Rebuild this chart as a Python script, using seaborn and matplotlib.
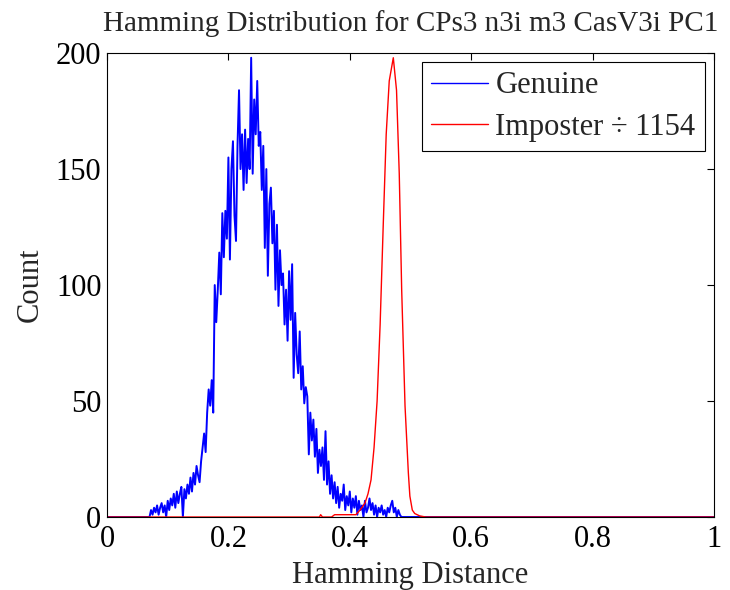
import numpy as np
import pandas as pd
import matplotlib
matplotlib.use("Agg")
import matplotlib.pyplot as plt
import seaborn as sns

# ---------------- data ----------------
genuine_start = 0.070
genuine_step = 0.0025
genuine_counts = [
    0, 3, 1, 4, 2, 5, 1, 4, 6, 2,
    5, 0, 7, 3, 8, 5, 10, 4, 11, 6,
    10, 13, 0, 12, 8, 14, 10, 17, 11, 19,
    14, 22, 18, 15, 24, 30, 36, 28, 45, 55,
    48, 59, 45, 100, 84, 98, 114, 96, 131, 112,
    132, 120, 155, 111, 150, 162, 130, 119, 160, 184,
    150, 165, 141, 167, 144, 163, 150, 198, 148, 180,
    165, 188, 160, 166, 141, 160, 116, 150, 104, 135,
    142, 118, 132, 98, 126, 91, 115, 100, 105, 83,
    98, 76, 106, 85, 109, 60, 88, 70, 62, 80,
    55, 65, 49, 56, 52, 27, 45, 33, 42, 26,
    38, 19, 29, 22, 30, 16, 37, 14, 24, 10,
    18, 8, 15, 6, 13, 4, 10, 7, 14, 3,
    9, 5, 11, 2, 8, 4, 9, 1, 7, 3,
    5, 0, 7, 2, 4, 8, 3, 6, 1, 5,
    0, 4, 2, 5, 1, 3, 0, 4, 2, 5,
    7, 2, 4, 0, 3, 1, 0,
]

imposter_x = [0.0, 0.350, 0.352, 0.355, 0.370, 0.375, 0.410, 0.417, 0.425,
              0.430, 0.435, 0.440, 0.445, 0.450, 0.455, 0.460, 0.465, 0.4717,
              0.477, 0.4815, 0.4855, 0.491, 0.4965, 0.499, 0.503, 0.507,
              0.515, 0.525, 1.0]
imposter_counts = [0, 0, 1, 0, 0, 1, 1, 3, 6,
                   10, 16, 30, 50, 83, 125, 165, 188, 198,
                   184, 148, 98, 48, 19, 9, 3, 1.5,
                   0.5, 0, 0]

title_text = "Hamming Distribution for CPs3 n3i m3 CasV3i PC1"
x_label = "Hamming Distance"
y_label = "Count"
legend_labels = ["Genuine", "Imposter \u00f7 1154"]
x_ticks = [0, 0.2, 0.4, 0.6, 0.8, 1]
x_tick_labels = ["0", "0.2", "0.4", "0.6", "0.8", "1"]
y_ticks = [0, 50, 100, 150, 200]

# ---------------- build tables ----------------
gx = genuine_start + genuine_step * np.arange(len(genuine_counts))
genuine_df = pd.DataFrame({
    "x": np.concatenate([[0.0], gx, [1.0]]),
    "y": np.concatenate([[0], genuine_counts, [0]]),
})
imposter_df = pd.DataFrame({"x": imposter_x, "y": imposter_counts})

# ---------------- style ----------------
sns.set_style("white")
plt.rcParams["font.family"] = ["Liberation Serif", "DejaVu Serif"]
plt.rcParams["xtick.direction"] = "in"
plt.rcParams["ytick.direction"] = "in"
plt.rcParams["axes.linewidth"] = 0.8
plt.rcParams["axes.edgecolor"] = "black"

FS = 22

fig = plt.figure(figsize=(7.3, 5.9), dpi=100)
ax = fig.add_axes([0.1466, 0.1237, 0.8314, 0.7863])

sns.lineplot(data=genuine_df, x="x", y="y", ax=ax, color="#0000ff",
             linewidth=1.4, estimator=None, sort=False, label=legend_labels[0])
sns.lineplot(data=imposter_df, x="x", y="y", ax=ax, color="#ff0000",
             linewidth=1.0, estimator=None, sort=False, label=legend_labels[1])

ax.set_xlim(0, 1)
ax.set_ylim(0, 200)
ax.set_xticks(x_ticks)
ax.set_xticklabels(x_tick_labels)
ax.set_yticks(y_ticks)
ax.tick_params(axis="both", which="both", labelsize=FS, length=5, width=0.8,
               top=True, right=True, colors="black")
ax.tick_params(axis="x", pad=6)
ax.tick_params(axis="y", pad=4)
ax.set_xlabel(x_label, fontsize=FS, labelpad=5)
ax.set_ylabel(y_label, fontsize=FS, labelpad=8)
ax.set_title(title_text, fontsize=21, pad=16)
for s in ax.spines.values():
    s.set_visible(True)
    s.set_color("black")

leg = ax.legend(loc="upper right", fontsize=FS, frameon=True, fancybox=False,
                edgecolor="black", framealpha=1, handlelength=1.85,
                borderaxespad=0.3, borderpad=0.3, labelspacing=0.4,
                handletextpad=0.25)
leg.get_frame().set_linewidth(0.8)
for h in leg.get_lines():
    h.set_linewidth(1.0)

fig.savefig("out.png", dpi=100)
